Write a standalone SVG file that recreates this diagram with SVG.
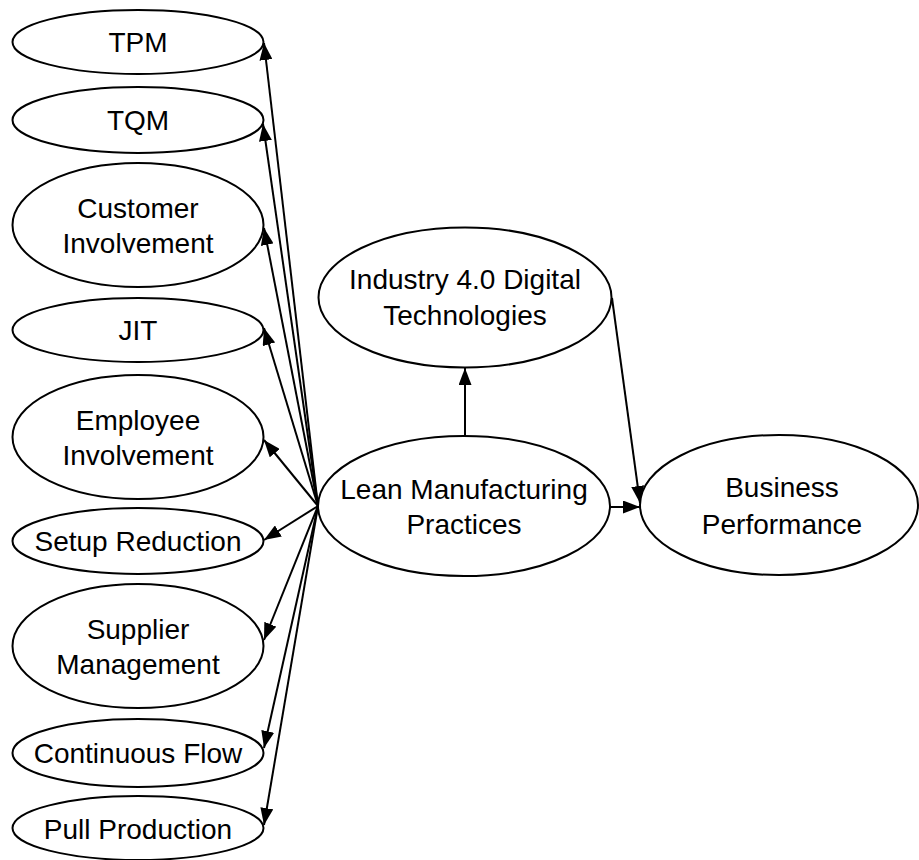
<svg xmlns="http://www.w3.org/2000/svg" width="919" height="860" viewBox="0 0 919 860">
  <style>
    .node ellipse { fill: #ffffff; stroke: #000000; stroke-width: 2; }
    .node text { font-family: "Liberation Sans", Arial, sans-serif; font-size: 28px; fill: #000000; text-anchor: middle; }
    .edges line { stroke: #000000; stroke-width: 2; marker-end: url(#arrow); }
  </style>
  <defs>
    <marker id="arrow" markerUnits="userSpaceOnUse" markerWidth="17" markerHeight="13" viewBox="0 0 17 13" refX="17" refY="6.5" orient="auto">
      <path d="M0,0 L17,6.5 L0,13 z" fill="#000000"/>
    </marker>
  </defs>
  <rect width="919" height="860" fill="#ffffff"/>

  <!-- left column: lean practice dimensions -->
  <g id="tpm" class="node">
    <ellipse cx="138" cy="42" rx="125.5" ry="32"/>
    <text x="138" y="52">TPM</text>
  </g>
  <g id="tqm" class="node">
    <ellipse cx="138" cy="120" rx="125.5" ry="33"/>
    <text x="138" y="130">TQM</text>
  </g>
  <g id="customer-involvement" class="node">
    <ellipse cx="138" cy="225" rx="125.5" ry="62"/>
    <text x="138" y="218">Customer</text>
    <text x="138" y="253">Involvement</text>
  </g>
  <g id="jit" class="node">
    <ellipse cx="138" cy="330" rx="125.5" ry="32"/>
    <text x="138" y="340">JIT</text>
  </g>
  <g id="employee-involvement" class="node">
    <ellipse cx="138" cy="437" rx="125.5" ry="62"/>
    <text x="138" y="430">Employee</text>
    <text x="138" y="465">Involvement</text>
  </g>
  <g id="setup-reduction" class="node">
    <ellipse cx="138" cy="541" rx="125.5" ry="33"/>
    <text x="138" y="551">Setup Reduction</text>
  </g>
  <g id="supplier-management" class="node">
    <ellipse cx="138" cy="646" rx="125.5" ry="62"/>
    <text x="138" y="639">Supplier</text>
    <text x="138" y="674">Management</text>
  </g>
  <g id="continuous-flow" class="node">
    <ellipse cx="138" cy="753" rx="125.5" ry="34"/>
    <text x="138" y="763">Continuous Flow</text>
  </g>
  <g id="pull-production" class="node">
    <ellipse cx="138" cy="828" rx="125.5" ry="32"/>
    <text x="138" y="839">Pull Production</text>
  </g>

  <!-- central constructs -->
  <g id="industry40" class="node">
    <ellipse cx="465" cy="297.5" rx="146.5" ry="70"/>
    <text x="465" y="289">Industry 4.0 Digital</text>
    <text x="465" y="325">Technologies</text>
  </g>
  <g id="lean-manufacturing" class="node">
    <ellipse cx="464" cy="506" rx="146" ry="70"/>
    <text x="464" y="499">Lean Manufacturing</text>
    <text x="464" y="534">Practices</text>
  </g>
  <g id="business-performance" class="node">
    <ellipse cx="779" cy="505" rx="139" ry="70"/>
    <text x="782" y="497">Business</text>
    <text x="782" y="534">Performance</text>
  </g>

  <!-- connectors -->
  <g id="connectors" class="edges">
    <line x1="318" y1="506" x2="264" y2="43"/>
    <line x1="318" y1="506" x2="263" y2="124"/>
    <line x1="318" y1="506" x2="264" y2="228"/>
    <line x1="318" y1="506" x2="264" y2="328"/>
    <line x1="318" y1="506" x2="264" y2="440"/>
    <line x1="318" y1="506" x2="264" y2="540"/>
    <line x1="318" y1="506" x2="264" y2="640"/>
    <line x1="318" y1="506" x2="264" y2="748"/>
    <line x1="318" y1="506" x2="264" y2="825"/>
    <line x1="465" y1="436" x2="465" y2="368"/>
    <line x1="612" y1="298" x2="640" y2="503"/>
    <line x1="610" y1="507" x2="640" y2="507"/>
  </g>
</svg>
